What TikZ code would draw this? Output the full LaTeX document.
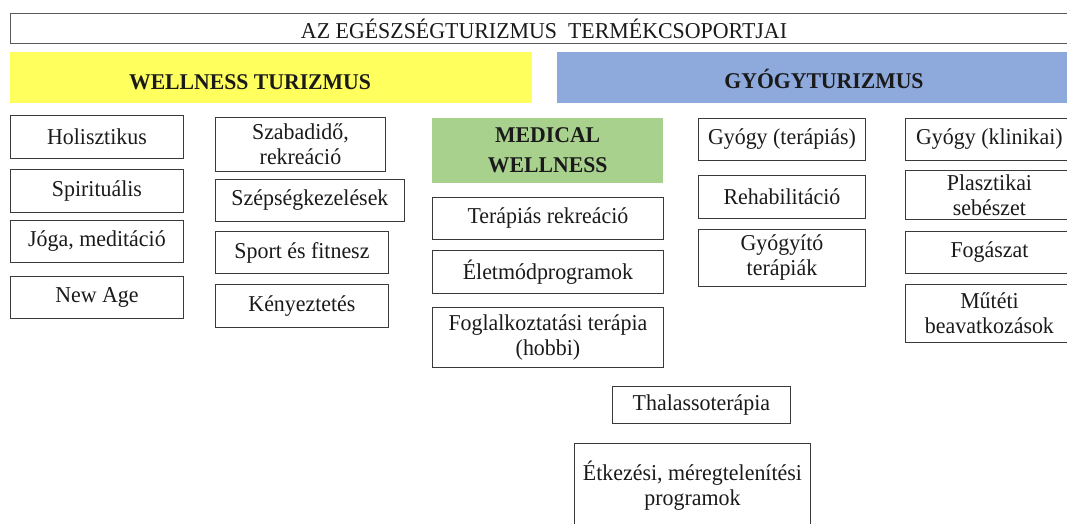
\documentclass[tikz,border=0pt]{standalone}
\usepackage{fontspec}
\setmainfont[FakeStretch=0.965]{Liberation Serif}
\usepackage{tikz}
\usetikzlibrary{positioning}
\definecolor{boxGray}{HTML}{3A3A3A}
\definecolor{titleGray}{HTML}{5A5A5A}
\definecolor{wellYellow}{HTML}{FFFF5E}
\definecolor{gyogyBlue}{HTML}{8EA9DB}
\definecolor{medGreen}{HTML}{A9D18E}
\definecolor{txtDark}{HTML}{1A1A1A}

\begin{document}
\begin{tikzpicture}[
  x=1pt, y=-1pt,
  box/.style={draw=boxGray, line width=0.9pt, anchor=north west, inner sep=0pt,
              align=center, text=txtDark, font=\fontsize{22.7}{25}\selectfont},
  band/.style={anchor=north west, inner sep=0pt, minimum height=51pt,
               text=txtDark, font=\fontsize{22.5}{30}\selectfont\bfseries},
  head/.style={anchor=base, text=txtDark, font=\fontsize{22.5}{30}\selectfont\bfseries}
]
\useasboundingbox (0,0) rectangle (1067,523);
% title
\node[box, draw=titleGray, line width=1.3pt, minimum width=1065pt, minimum height=30pt] (title) at (10,13) {};
\node[anchor=base, text=txtDark, font=\fontsize{22.7}{25}\selectfont] (titletext) at (544,38) {AZ EGÉSZSÉGTURIZMUS\ \ TERMÉKCSOPORTJAI};
% main groups
\node[band, fill=wellYellow, minimum width=522pt] (wellness) at (10,52) {};
\node[head] (wellnesstext) at (250,89) {WELLNESS TURIZMUS};
\node[band, fill=gyogyBlue, minimum width=515pt] (gyogy) at (557,52) {};
\node[head] (gyogytext) at (824,88) {GYÓGYTURIZMUS};
% wellness, first column
\node[box, minimum width=173pt, minimum height=43pt] (holiszt) at (10,115) {Holisztikus};
\node[box, minimum width=173pt, minimum height=43pt] (spirit)  at (10,169) {Spirituális};
\node[box, minimum width=173pt, minimum height=42pt] (joga)    at (10,220) {Jóga, meditáció};
\node[box, minimum width=173pt, minimum height=42pt] (newage)  at (10,276) {New Age};
% wellness, second column
\node[box, minimum width=170pt, minimum height=54pt] (szabad)  at (215,117) {Szabadidő,\\rekreáció};
\node[box, minimum width=189pt, minimum height=42pt] (szepseg) at (215,179) {Szépségkezelések};
\node[box, minimum width=173pt, minimum height=42pt] (sport)   at (215,231) {Sport és fitnesz};
\node[box, minimum width=173pt, minimum height=43pt] (kenyez)  at (215,284) {Kényeztetés};
% medical wellness
\node[band, fill=medGreen, minimum width=231pt, minimum height=65pt, align=center] (medical) at (432,118) {MEDICAL\\WELLNESS};
\node[box, minimum width=231pt, minimum height=42pt] (terrek)  at (432,197) {Terápiás rekreáció};
\node[box, minimum width=231pt, minimum height=43pt] (eletmod) at (432,250) {Életmódprogramok};
\node[box, minimum width=231pt, minimum height=60pt] (foglalk) at (432,307) {Foglalkoztatási terápia\\(hobbi)};
% gyogyturizmus, first column
\node[box, minimum width=167pt, minimum height=42pt] (gyterap) at (698,118) {Gyógy (terápiás)};
\node[box, minimum width=167pt, minimum height=43pt] (rehab)   at (698,175) {Rehabilitáció};
\node[box, minimum width=167pt, minimum height=57pt] (gyogyito) at (698,229) {Gyógyító\\terápiák};
% gyogyturizmus, second column
\node[box, minimum width=168pt, minimum height=42pt] (klinik)  at (905,118) {Gyógy (klinikai)};
\node[box, minimum width=168pt, minimum height=49pt] (plaszt)  at (905,170) {Plasztikai\\sebészet};
\node[box, minimum width=168pt, minimum height=42pt] (fogasz)  at (905,231) {Fogászat};
\node[box, minimum width=168pt, minimum height=58pt] (mutet)   at (905,284) {Műtéti\\beavatkozások};
% bottom
\node[box, minimum width=178pt, minimum height=37pt] (thalasso) at (612,386) {Thalassoterápia};
\node[box, minimum width=236pt, minimum height=84pt] (etkez)   at (574,443) {Étkezési, méregtelenítési\\programok};
\end{tikzpicture}
\end{document}
